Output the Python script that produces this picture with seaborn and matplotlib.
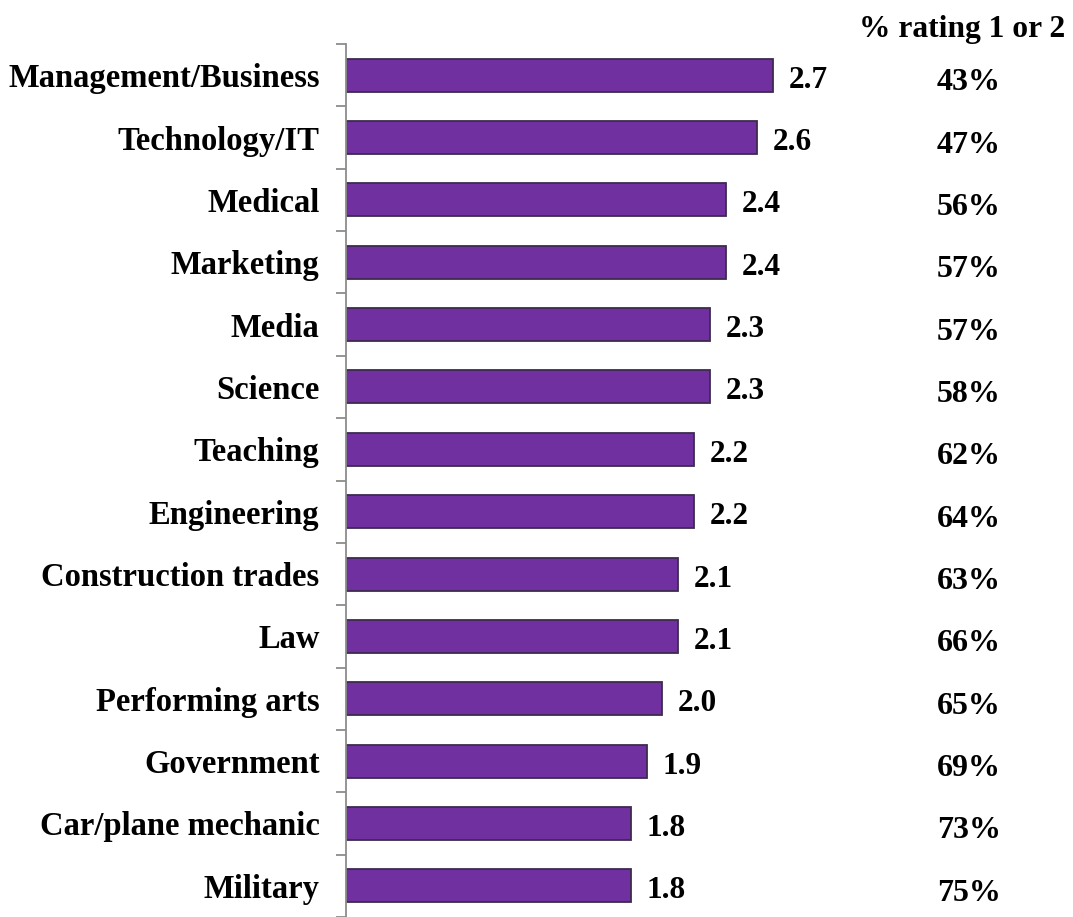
import numpy as np
import pandas as pd
import seaborn as sns
import matplotlib.pyplot as plt

# data
fields = ['Management/Business', 'Technology/IT', 'Medical', 'Marketing', 'Media',
          'Science', 'Teaching', 'Engineering', 'Construction trades', 'Law',
          'Performing arts', 'Government', 'Car/plane mechanic', 'Military']
avg_rating = [2.7, 2.6, 2.4, 2.4, 2.3, 2.3, 2.2, 2.2, 2.1, 2.1, 2.0, 1.9, 1.8, 1.8]
pct_low = ['43%', '47%', '56%', '57%', '57%', '58%', '62%', '64%', '63%', '66%',
           '65%', '69%', '73%', '75%']

df = pd.DataFrame({'field': fields, 'rating': avg_rating})

sns.set_style('white')
plt.rcParams['font.family'] = ['Liberation Serif', 'DejaVu Serif']
plt.rcParams['font.weight'] = 'bold'
plt.rcParams['text.color'] = 'black'
plt.rcParams['ytick.labelcolor'] = 'black'

fig = plt.figure(figsize=(10.73, 9.17), dpi=100)
ax = fig.add_axes([346 / 1073, 0, 727 / 1073, 873 / 917])

sns.barplot(data=df, x='rating', y='field', orient='h', color='#7030A0',
            saturation=1, width=0.53, edgecolor='#3d2b4f', linewidth=1.3, ax=ax)

ax.set_xlim(0, 727 / 158.2)
ax.set_ylim(-0.5 + 873 / 62.5, -0.5)
ax.set_xlabel('')
ax.set_ylabel('')
ax.set_xticks([])

for s in ['top', 'right', 'bottom']:
    ax.spines[s].set_visible(False)
ax.spines['left'].set_color('#8c8c8c')
ax.spines['left'].set_linewidth(1.3)

# category boundary ticks
ax.set_yticks(np.arange(-0.5, len(fields) + 0.5, 1), minor=True)
ax.tick_params(axis='y', which='minor', length=7, width=1.3, color='#8c8c8c', left=True)
ax.tick_params(axis='y', which='major', length=0, pad=19, labelsize=23.5,
               labelcolor='black')
for lbl in ax.get_yticklabels():
    lbl.set_fontweight('bold')

# value labels
for i, v in enumerate(avg_rating):
    ax.text(v + 0.1, i + 0.08, f'{v:.1f}', va='center', ha='left', fontsize=22.5,
            fontweight='bold', color='black')

# % rating 1 or 2 column
for i, p in enumerate(pct_low):
    ax.text((969 - 346) / 158.2, i + 0.12, p, va='center', ha='center',
            fontsize=23, fontweight='bold', color='black')
fig.text(962 / 1073, 1 - 29 / 917, '% rating 1 or 2', ha='center', va='center',
         fontsize=22.7, fontweight='bold', color='black')

fig.savefig('out.png', dpi=100)
